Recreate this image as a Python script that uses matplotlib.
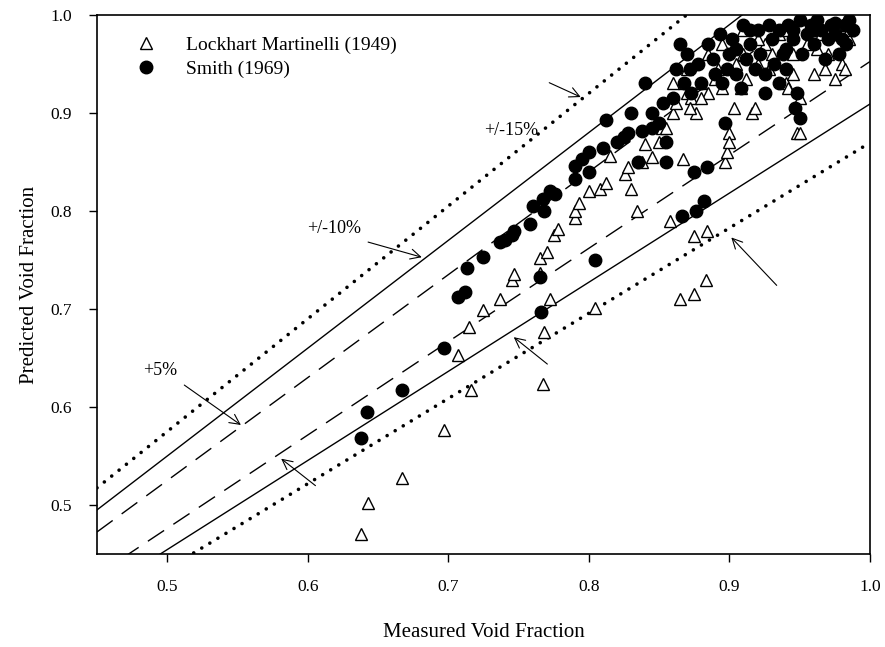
import numpy as np
import matplotlib
matplotlib.use("Agg")
import matplotlib.pyplot as plt

# Lockhart Martinelli (1949) - open triangles
lm_x = [0.638, 0.643, 0.667, 0.697, 0.707, 0.715, 0.716, 0.725, 0.737, 0.745,
        0.747, 0.765, 0.765, 0.767, 0.768, 0.770, 0.772, 0.775, 0.778, 0.790,
        0.790, 0.793, 0.800, 0.804, 0.808, 0.812, 0.815, 0.826, 0.828, 0.830,
        0.834, 0.838, 0.840, 0.845, 0.850, 0.852, 0.858, 0.860, 0.865, 0.867,
        0.870, 0.873, 0.875, 0.875, 0.876, 0.880, 0.883, 0.884, 0.885, 0.890,
        0.895, 0.897, 0.898, 0.900, 0.900, 0.903, 0.905, 0.910, 0.912, 0.916,
        0.918, 0.920, 0.925, 0.930, 0.935, 0.940, 0.942, 0.945, 0.948, 0.950,
        0.950, 0.955, 0.960, 0.962, 0.965, 0.970, 0.975, 0.980, 0.982, 0.985,
        0.985, 0.980, 0.960, 0.940, 0.920, 0.910, 0.895, 0.885, 0.870, 0.860,
        0.855, 0.862, 0.868, 0.872, 0.880, 0.892, 0.908, 0.928, 0.945, 0.968]
lm_y = [0.470, 0.502, 0.528, 0.577, 0.653, 0.682, 0.617, 0.699, 0.710, 0.730,
        0.736, 0.752, 0.737, 0.623, 0.676, 0.758, 0.710, 0.775, 0.782, 0.793,
        0.800, 0.808, 0.820, 0.701, 0.822, 0.829, 0.856, 0.838, 0.845, 0.822,
        0.800, 0.850, 0.868, 0.855, 0.870, 0.885, 0.790, 0.900, 0.710, 0.853,
        0.920, 0.915, 0.715, 0.774, 0.900, 0.930, 0.730, 0.780, 0.920, 0.935,
        0.925, 0.850, 0.860, 0.880, 0.870, 0.905, 0.950, 0.960, 0.935, 0.900,
        0.905, 0.950, 0.970, 0.960, 0.980, 0.930, 0.925, 0.940, 0.880, 0.880,
        0.915, 0.970, 0.940, 0.965, 0.980, 0.960, 0.935, 0.950, 0.945, 0.975,
        0.985, 0.990, 0.990, 0.985, 0.975, 0.985, 0.970, 0.960, 0.945, 0.930,
        0.885, 0.910, 0.930, 0.905, 0.915, 0.945, 0.925, 0.945, 0.960, 0.945]

# Smith (1969) - filled circles
sm_x = [0.638, 0.642, 0.667, 0.697, 0.707, 0.712, 0.713, 0.725, 0.737, 0.740,
        0.745, 0.747, 0.758, 0.760, 0.765, 0.766, 0.767, 0.768, 0.772, 0.776,
        0.790, 0.790, 0.795, 0.800, 0.800, 0.804, 0.810, 0.812, 0.820, 0.825,
        0.828, 0.830, 0.835, 0.838, 0.840, 0.845, 0.850, 0.853, 0.855, 0.860,
        0.862, 0.865, 0.866, 0.868, 0.870, 0.873, 0.875, 0.876, 0.878, 0.880,
        0.882, 0.884, 0.885, 0.888, 0.890, 0.893, 0.895, 0.897, 0.898, 0.900,
        0.902, 0.905, 0.908, 0.910, 0.912, 0.915, 0.918, 0.920, 0.922, 0.925,
        0.928, 0.930, 0.932, 0.935, 0.938, 0.940, 0.942, 0.945, 0.947, 0.948,
        0.950, 0.950, 0.952, 0.955, 0.958, 0.960, 0.962, 0.965, 0.968, 0.970,
        0.972, 0.975, 0.978, 0.980, 0.982, 0.985, 0.983, 0.935, 0.940, 0.925,
        0.855, 0.845, 0.872, 0.905, 0.915, 0.945, 0.960, 0.975, 0.988]
sm_y = [0.568, 0.595, 0.617, 0.660, 0.712, 0.717, 0.742, 0.753, 0.768, 0.770,
        0.775, 0.780, 0.787, 0.805, 0.733, 0.697, 0.812, 0.800, 0.820, 0.817,
        0.833, 0.846, 0.853, 0.840, 0.860, 0.750, 0.864, 0.893, 0.870, 0.875,
        0.880, 0.900, 0.850, 0.882, 0.930, 0.885, 0.890, 0.910, 0.850, 0.915,
        0.945, 0.970, 0.795, 0.930, 0.960, 0.920, 0.840, 0.800, 0.950, 0.930,
        0.810, 0.845, 0.970, 0.955, 0.940, 0.980, 0.930, 0.890, 0.945, 0.960,
        0.975, 0.940, 0.925, 0.990, 0.955, 0.970, 0.945, 0.985, 0.960, 0.940,
        0.990, 0.975, 0.950, 0.985, 0.960, 0.945, 0.990, 0.975, 0.905, 0.920,
        0.895, 0.995, 0.960, 0.980, 0.990, 0.970, 0.995, 0.985, 0.955, 0.975,
        0.990, 0.980, 0.960, 0.975, 0.990, 0.995, 0.970, 0.930, 0.965, 0.920,
        0.870, 0.900, 0.945, 0.965, 0.985, 0.985, 0.985, 0.992, 0.985]

# error bands: predicted = measured * factor
band_factors = [1.15, 1.10, 1.05, 1 / 1.05, 1 / 1.10, 1 / 1.15]
band_styles = ['dot', 'solid', 'dash', 'dash', 'solid', 'dot']

plt.rcParams['font.family'] = ['Liberation Serif', 'DejaVu Serif']

fig = plt.figure(figsize=(8.85, 6.47), dpi=100)
ax = fig.add_axes([0.1096, 0.1437, 0.8734, 0.8333])

xx = np.array([0.45, 1.0])
for f, st in zip(band_factors, band_styles):
    if st == 'dot':
        ax.plot(xx, f * xx, color='black', lw=2.6, linestyle=(0, (0.01, 2.6)),
                dash_capstyle='round', zorder=1)
    elif st == 'dash':
        ax.plot(xx, f * xx, color='black', lw=1.0, linestyle=(0, (14, 8)), zorder=1)
    else:
        ax.plot(xx, f * xx, color='black', lw=1.0, zorder=1)

ax.plot(lm_x, lm_y, linestyle='none', marker='^', markersize=8.5,
        markerfacecolor='white', markeredgecolor='black', markeredgewidth=1.0,
        label='Lockhart Martinelli (1949)', zorder=3)
ax.plot(sm_x, sm_y, linestyle='none', marker='o', markersize=9,
        markerfacecolor='black', markeredgecolor='black',
        label='Smith (1969)', zorder=4)

# labels and arrows on the bands
arrow = dict(arrowstyle='->', color='black', lw=0.8, mutation_scale=18)

ax.text(0.745, 0.882, '+/-15%', fontsize=13, ha='center', va='center')
ax.annotate('', xy=(0.796, 0.915), xytext=(0.770, 0.932), arrowprops=arrow)

ax.text(0.619, 0.782, '+/-10%', fontsize=13, ha='center', va='center')
ax.annotate('', xy=(0.683, 0.752), xytext=(0.641, 0.769), arrowprops=arrow)

ax.text(0.495, 0.637, '+5%', fontsize=13, ha='center', va='center')
ax.annotate('', xy=(0.554, 0.580), xytext=(0.5105, 0.624), arrowprops=arrow)

ax.annotate('', xy=(0.5795, 0.549), xytext=(0.607, 0.518), arrowprops=arrow)
ax.annotate('', xy=(0.745, 0.673), xytext=(0.772, 0.642), arrowprops=arrow)
ax.annotate('', xy=(0.900, 0.775), xytext=(0.935, 0.722), arrowprops=arrow)

ax.set_xlim(0.45, 1.0)
ax.set_ylim(0.45, 1.0)
ax.set_xticks([0.5, 0.6, 0.7, 0.8, 0.9, 1.0])
ax.set_yticks([0.5, 0.6, 0.7, 0.8, 0.9, 1.0])
ax.set_xticklabels(['0.5', '0.6', '0.7', '0.8', '0.9', '1.0'])
ax.set_yticklabels(['0.5', '0.6', '0.7', '0.8', '0.9', '1.0'])
ax.tick_params(direction='out', length=6, width=1.0, labelsize=12.5, pad=12,
               top=False, right=False)
for s in ax.spines.values():
    s.set_linewidth(1.2)

ax.set_xlabel('Measured Void Fraction', fontsize=15, labelpad=20)
ax.set_ylabel('Predicted Void Fraction', fontsize=15, labelpad=8)

ax.legend(loc='upper left', bbox_to_anchor=(0.02, 0.985), frameon=False,
          fontsize=14, handletextpad=1.1, labelspacing=0.3, borderaxespad=0.3)

fig.savefig('out.png', dpi=100)
